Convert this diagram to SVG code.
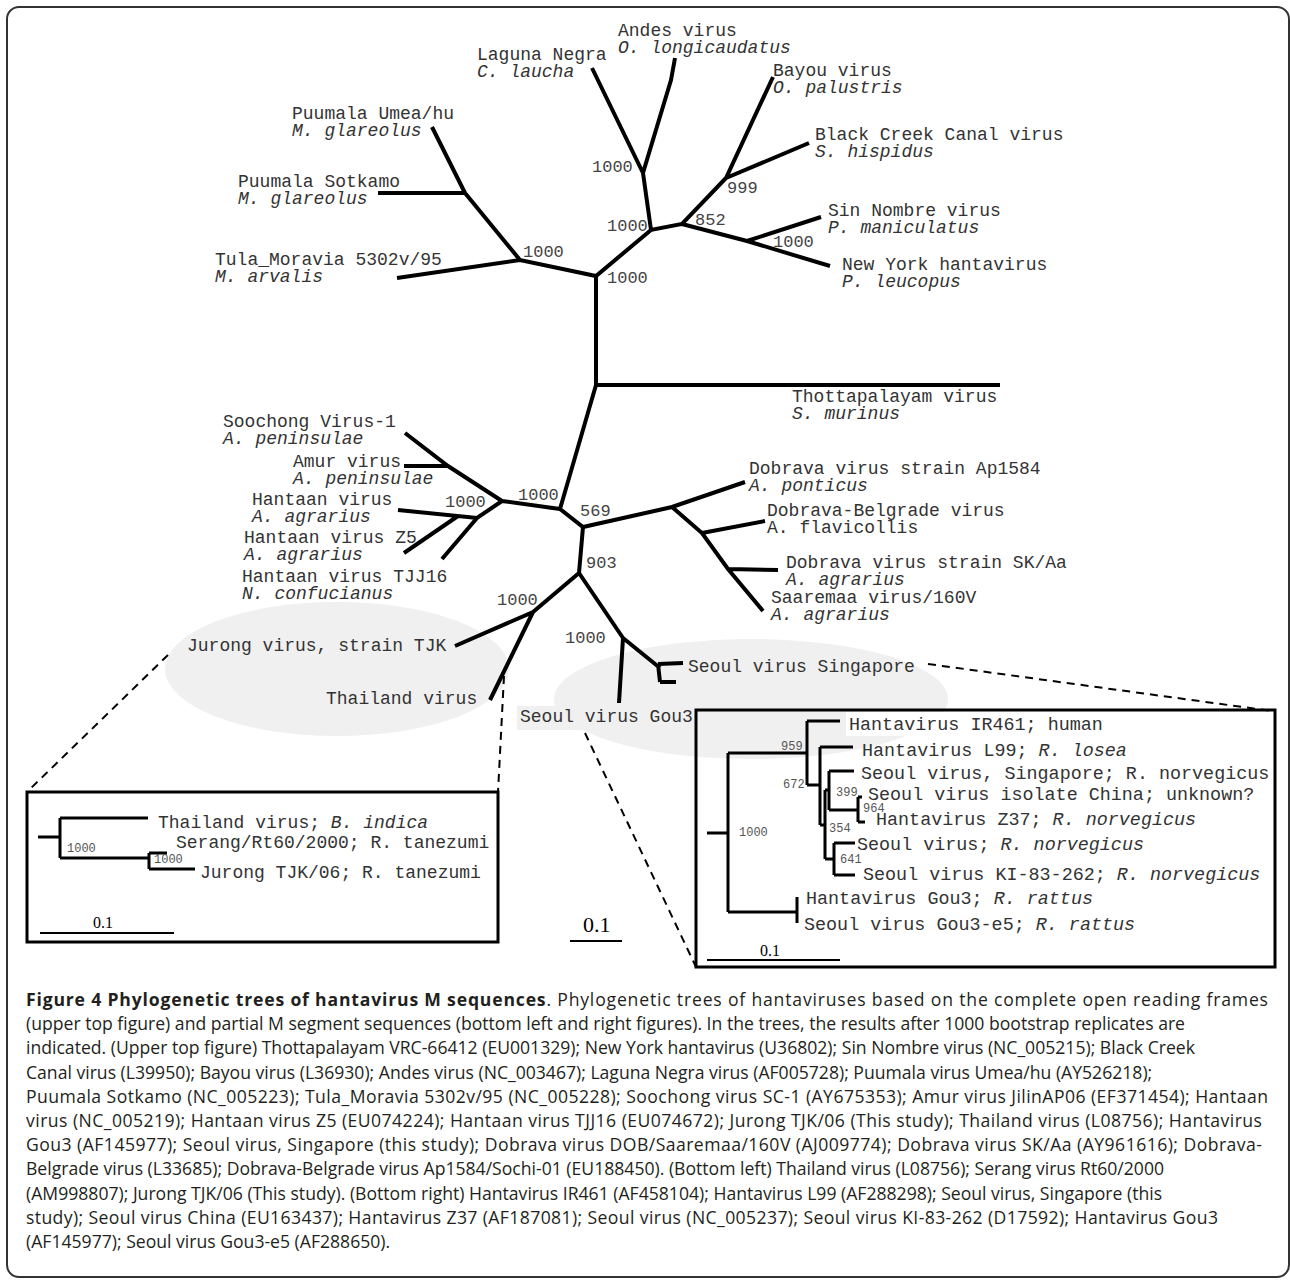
<svg xmlns="http://www.w3.org/2000/svg" width="1290" height="1280" viewBox="0 0 1290 1280">
<style>
.br{stroke:#000;stroke-width:4;fill:none;stroke-linejoin:miter}
.ib{stroke:#000;stroke-width:3;fill:none}
.box{stroke:#000;stroke-width:3;fill:none}
.dash{stroke:#000;stroke-width:2;stroke-dasharray:8 6;fill:none}
.t{font-family:"Liberation Mono",monospace;font-size:18px;fill:#333}
.tr{font-family:"Liberation Mono",monospace;font-size:18.4px;fill:#333}
.bs{font-family:"Liberation Mono",monospace;font-size:17px;fill:#444}
.sb{font-family:"Liberation Mono",monospace;font-size:12px;fill:#555}
.i{font-style:italic}
.sc{font-family:"Liberation Serif",serif;fill:#000}
.cap{font-family:"Open Sans",sans-serif;font-size:17.6px;fill:#231f20}
.b{font-weight:bold}
</style>
<rect x="7" y="7" width="1282" height="1270" rx="12" fill="#fff" stroke="#333" stroke-width="2"/>
<g id="highlights">
<ellipse cx="337" cy="669" rx="172" ry="67" fill="#f0f0f0"/>
<ellipse cx="751" cy="699" rx="197" ry="60" fill="#f0f0f0"/>
<rect x="846" y="712" width="100" height="24" fill="#fff"/>
</g>
<g id="connectors">
<path class="br" d="M592,68 L643,173 M675,58 L671,80 L643,173 L651,230 L682,224 L726,178 L773,77 M726,178 L809,143 M682,224 L747,241 L830,266 M747,241 L821,217 M651,230 L596,276 L520,260 L397,278 M520,260 L465,193 L378,193 M465,193 L432,127 M596,276 L596,385 L1000,385 M596,385 L560,509 L502,501 L448,466 L405,433 M448,466 L404,466 M502,501 L477,518 L398,510 M458,516 L404,553 M477,518 L442,559 M560,509 L583,527 L672,507 L745,482 M672,507 L702,533 L728,569 L763,611 M702,533 L765,521 M728,569 L778,570 M583,527 L579,573 L533,612 L455,646 M533,612 L490,700 M579,573 L623,638 L619,703 M623,638 L660,668 M658,664 L683,663 M658,664 L660,682 M660,682 L676,682"/>
<path class="dash" d="M168,655 L27,792 M504,676 L498,792 M928,664 L1272,711 M585,733 L696,967"/>
<line x1="570" y1="941" x2="622" y2="941" stroke="#000" stroke-width="2"/>
</g>
<g id="labels">
<text class="t" x="618" y="36">Andes virus</text>
<text class="t i" x="618" y="53">O. longicaudatus</text>
<text class="t" x="477" y="60">Laguna Negra</text>
<text class="t i" x="477" y="77">C. laucha</text>
<text class="t" x="773" y="76">Bayou virus</text>
<text class="t i" x="773" y="93">O. palustris</text>
<text class="t" x="815" y="140">Black Creek Canal virus</text>
<text class="t i" x="815" y="157">S. hispidus</text>
<text class="t" x="828" y="216">Sin Nombre virus</text>
<text class="t i" x="828" y="233">P. maniculatus</text>
<text class="t" x="842" y="270">New York hantavirus</text>
<text class="t i" x="842" y="287">P. leucopus</text>
<text class="t" x="292" y="119">Puumala Umea/hu</text>
<text class="t i" x="292" y="136">M. glareolus</text>
<text class="t" x="238" y="187">Puumala Sotkamo</text>
<text class="t i" x="238" y="204">M. glareolus</text>
<text class="t" x="215" y="265">Tula_Moravia 5302v/95</text>
<text class="t i" x="215" y="282">M. arvalis</text>
<text class="t" x="792" y="402">Thottapalayam virus</text>
<text class="t i" x="792" y="419">S. murinus</text>
<text class="t" x="223" y="427">Soochong Virus-1</text>
<text class="t i" x="223" y="444">A. peninsulae</text>
<text class="t" x="293" y="467">Amur virus</text>
<text class="t i" x="293" y="484">A. peninsulae</text>
<text class="t" x="252" y="505">Hantaan virus</text>
<text class="t i" x="252" y="522">A. agrarius</text>
<text class="t" x="244" y="543">Hantaan virus Z5</text>
<text class="t i" x="244" y="560">A. agrarius</text>
<text class="t" x="242" y="582">Hantaan virus TJJ16</text>
<text class="t i" x="242" y="599">N. confucianus</text>
<text class="t" x="749" y="474">Dobrava virus strain Ap1584</text>
<text class="t i" x="749" y="491">A. ponticus</text>
<text class="t" x="767" y="516">Dobrava-Belgrade virus</text>
<text class="t" x="767" y="533">A. flavicollis</text>
<text class="t" x="786" y="568">Dobrava virus strain SK/Aa</text>
<text class="t i" x="786" y="585">A. agrarius</text>
<text class="t" x="771" y="603">Saaremaa virus/160V</text>
<text class="t i" x="771" y="620">A. agrarius</text>
<text class="t" x="187" y="651">Jurong virus, strain TJK</text>
<text class="t" x="326" y="704">Thailand virus</text>
<text class="t" x="688" y="672">Seoul virus Singapore</text>
<rect x="517" y="706" width="176" height="24" fill="#f0f0f0"/>
<text class="t" x="520" y="722">Seoul virus Gou3</text>
<text class="bs" x="592" y="172">1000</text>
<text class="bs" x="607" y="231">1000</text>
<text class="bs" x="695" y="225">852</text>
<text class="bs" x="727" y="193">999</text>
<text class="bs" x="773" y="247">1000</text>
<text class="bs" x="607" y="283">1000</text>
<text class="bs" x="523" y="257">1000</text>
<text class="bs" x="518" y="500">1000</text>
<text class="bs" x="445" y="507">1000</text>
<text class="bs" x="580" y="516">569</text>
<text class="bs" x="586" y="568">903</text>
<text class="bs" x="497" y="605">1000</text>
<text class="bs" x="565" y="643">1000</text>
<text class="sc" x="583" y="932" font-size="22">0.1</text>
</g>
<g id="inset-left">
<rect class="box" x="27" y="792" width="471" height="150"/>
<path class="ib" d="M38,837 L60,837 M60,818 L60,858 M60,818 L148,818 M60,858 L149,858 M149,853 L149,869 M149,853 L167,853 M149,869 L195,869"/>
<line x1="40" y1="933" x2="174" y2="933" stroke="#000" stroke-width="2"/>
<text class="sc" x="93" y="928" font-size="16">0.1</text>
<text class="t" x="158" y="828">Thailand virus; <tspan class="i">B. indica</tspan></text>
<text class="t" x="176" y="848">Serang/Rt60/2000; R. tanezumi</text>
<text class="t" x="200" y="878">Jurong TJK/06; R. tanezumi</text>
<text class="sb" x="67" y="852">1000</text>
<text class="sb" x="154" y="863">1000</text>
</g>
<g id="inset-right">
<rect class="box" x="696" y="710" width="579" height="257"/>
<path class="ib" d="M707,833 L728,833 M728,753 L728,912 M728,753 L807,753 M807,721 L807,785 M807,721 L840,721 M807,785 L820,785 M820,747 L820,825 M820,747 L853,747 M820,825 L825,825 M825,790 L825,859 M825,790 L829,790 M829,771 L829,810 M829,771 L854,771 M829,810 L858,810 M858,797 L858,822 M858,797 L862,797 M858,822 L865,822 M825,859 L834,859 M834,843 L834,875 M834,843 L855,843 M834,875 L855,875 M728,912 L797,912 M797,897 L797,923"/>
<line x1="707" y1="960" x2="840" y2="960" stroke="#000" stroke-width="2"/>
<text class="sc" x="760" y="956" font-size="16">0.1</text>
<text class="tr" x="849" y="730">Hantavirus IR461; human</text>
<text class="tr" x="862" y="756">Hantavirus L99; <tspan class="i">R. losea</tspan></text>
<text class="tr" x="861" y="779">Seoul virus, Singapore; R. norvegicus</text>
<text class="tr" x="868" y="800">Seoul virus isolate China; unknown?</text>
<text class="tr" x="876" y="825">Hantavirus Z37; <tspan class="i">R. norvegicus</tspan></text>
<text class="tr" x="857" y="850">Seoul virus; <tspan class="i">R. norvegicus</tspan></text>
<text class="tr" x="863" y="880">Seoul virus KI-83-262; <tspan class="i">R. norvegicus</tspan></text>
<text class="tr" x="806" y="904">Hantavirus Gou3; <tspan class="i">R. rattus</tspan></text>
<text class="tr" x="804" y="930">Seoul virus Gou3-e5; <tspan class="i">R. rattus</tspan></text>
<text class="sb" x="781" y="750">959</text>
<text class="sb" x="783" y="788">672</text>
<text class="sb" x="836" y="796">399</text>
<text class="sb" x="863" y="812">964</text>
<text class="sb" x="829" y="832">354</text>
<text class="sb" x="840" y="863">641</text>
<text class="sb" x="739" y="836">1000</text>
</g>
<g id="caption">
<text class="cap" x="26" y="1006" textLength="1242" lengthAdjust="spacing"><tspan class="b">Figure 4 Phylogenetic trees of hantavirus M sequences</tspan>. Phylogenetic trees of hantaviruses based on the complete open reading frames</text>
<text class="cap" x="26" y="1030">(upper top figure) and partial M segment sequences (bottom left and right figures). In the trees, the results after 1000 bootstrap replicates are</text>
<text class="cap" x="26" y="1054">indicated. (Upper top figure) Thottapalayam VRC-66412 (EU001329); New York hantavirus (U36802); Sin Nombre virus (NC_005215); Black Creek</text>
<text class="cap" x="26" y="1079">Canal virus (L39950); Bayou virus (L36930); Andes virus (NC_003467); Laguna Negra virus (AF005728); Puumala virus Umea/hu (AY526218);</text>
<text class="cap" x="26" y="1103" textLength="1242" lengthAdjust="spacing">Puumala Sotkamo (NC_005223); Tula_Moravia 5302v/95 (NC_005228); Soochong virus SC-1 (AY675353); Amur virus JilinAP06 (EF371454); Hantaan</text>
<text class="cap" x="26" y="1127" textLength="1236" lengthAdjust="spacing">virus (NC_005219); Hantaan virus Z5 (EU074224); Hantaan virus TJJ16 (EU074672); Jurong TJK/06 (This study); Thailand virus (L08756); Hantavirus</text>
<text class="cap" x="26" y="1151" textLength="1236" lengthAdjust="spacing">Gou3 (AF145977); Seoul virus, Singapore (this study); Dobrava virus DOB/Saaremaa/160V (AJ009774); Dobrava virus SK/Aa (AY961616); Dobrava-</text>
<text class="cap" x="26" y="1175">Belgrade virus (L33685); Dobrava-Belgrade virus Ap1584/Sochi-01 (EU188450). (Bottom left) Thailand virus (L08756); Serang virus Rt60/2000</text>
<text class="cap" x="26" y="1200">(AM998807); Jurong TJK/06 (This study). (Bottom right) Hantavirus IR461 (AF458104); Hantavirus L99 (AF288298); Seoul virus, Singapore (this</text>
<text class="cap" x="26" y="1224" textLength="1192" lengthAdjust="spacing">study); Seoul virus China (EU163437); Hantavirus Z37 (AF187081); Seoul virus (NC_005237); Seoul virus KI-83-262 (D17592); Hantavirus Gou3</text>
<text class="cap" x="26" y="1248">(AF145977); Seoul virus Gou3-e5 (AF288650).</text>
</g>
</svg>
